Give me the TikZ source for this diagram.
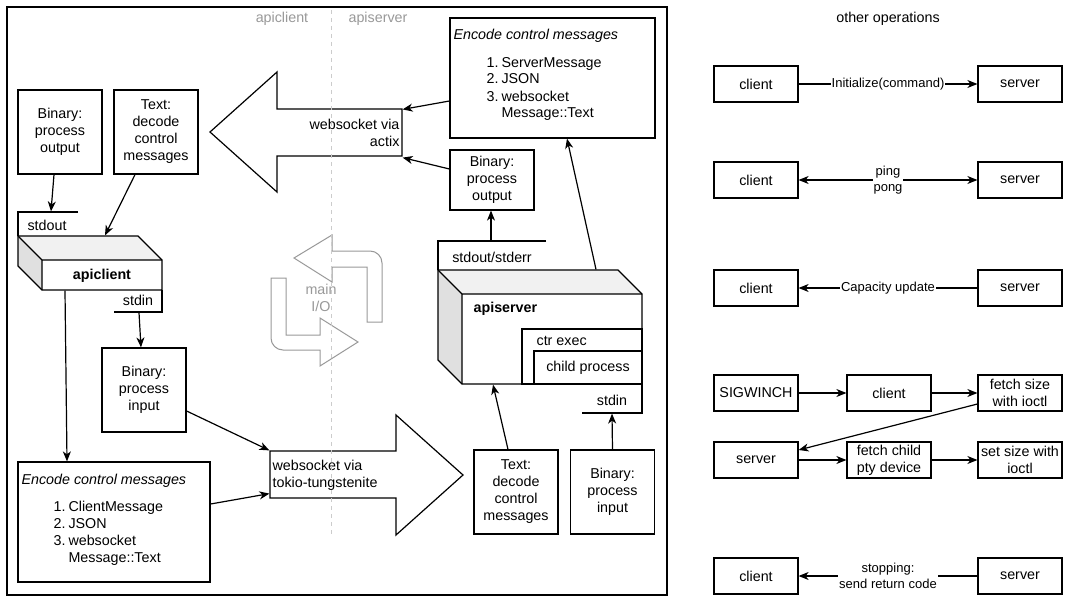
\documentclass[tikz,border=0pt]{standalone}
\usepackage{fontspec}
\setmainfont{Liberation Sans}
\usetikzlibrary{arrows.meta}
\newcommand\mfs{\fontsize{14.3}{17}\selectfont}
\newcommand\lfs{\fontsize{13}{15.5}\selectfont}
\definecolor{lgray}{HTML}{999999}
\definecolor{dgray}{HTML}{CCCCCC}
\definecolor{topf}{HTML}{F1F1F1}
\definecolor{sidef}{HTML}{E0E0E0}
\begin{document}
\begin{tikzpicture}[x=1pt,y=-1pt,line width=1.2pt,
  every node/.style={font=\mfs, inner sep=0pt},
  box/.style={draw, line width=1.2pt, align=center},
  lbl/.style={align=center},
  tip/.style={-{Stealth[length=10pt,width=8pt,inset=3pt]}},
  bitip/.style={{Stealth[length=10pt,width=8pt,inset=3pt]}-{Stealth[length=10pt,width=8pt,inset=3pt]}},
  elab/.style={font=\lfs, fill=white, inner sep=1pt, align=center},
  glabel/.style={text=lgray}]
\useasboundingbox (0,0) rectangle (1071,602);
\fill[white] (0,0) rectangle (1071,602);

% outer frame
\node[draw, minimum width=660pt, minimum height=588pt] (frame) at (337,301) {};

% lane labels
\node[glabel] (lapic) at (282,19) {apiclient};
\node[glabel] (lapis) at (378,19) {apiserver};

% big left arrow (websocket via actix)
\draw[fill=white] (402,109) -- (277,109) -- (277,72) -- (210,132) -- (277,192) -- (277,156) -- (402,156) -- cycle;
\node[minimum width=125pt, minimum height=47pt] (wsa) at (339.5,132.5) {};
\node[anchor=east, align=right] (wsatext) at (400,133) {websocket via\\actix};

% big right arrow (websocket via tokio-tungstenite)
\draw[fill=white] (270,451) -- (396,451) -- (396,415) -- (463,475) -- (396,535) -- (396,498) -- (270,498) -- cycle;
\node[minimum width=126pt, minimum height=47pt] (wst) at (333,474.5) {};
\node[anchor=west, align=left] (wsttext) at (272,475) {websocket via\\tokio-tungstenite};

% main I/O
\draw[lgray, line width=1pt, fill=white] (294,258) -- (332,235) -- (332,251) -- (370,251)
  arc[start angle=-90, end angle=0, radius=12] -- (382,322) -- (367,322) -- (367,267)
  -- (332,267) -- (332,282) -- cycle;
\draw[lgray, line width=1pt, fill=white] (271,278) -- (286,278) -- (286,335) -- (320,335)
  -- (320,318) -- (358,342) -- (320,366) -- (320,350) -- (283,350)
  arc[start angle=90, end angle=180, radius=12] -- cycle;
\node[glabel, align=center] (mainio) at (321,298) {main\\I/O};

% ---------- client side ----------
\node[box, minimum width=84pt, minimum height=84pt] (bpo) at (60,132) {Binary:\\process\\output};
\node[box, minimum width=84pt, minimum height=84pt] (tdc) at (156,132) {Text:\\decode\\control\\messages};

% stdout partial
\draw (78,212) -- (18,212) -- (18,236);
\node[minimum width=60pt, minimum height=24pt] (stdoutc) at (48,224) {};
\node (stdoutctext) at (47,225) {stdout};

% apiclient cube
\fill[topf] (18,236) -- (138,236) -- (162,260) -- (42,260) -- cycle;
\fill[sidef] (18,236) -- (42,260) -- (42,290) -- (18,266) -- cycle;
\draw (18,236) -- (138,236) -- (162,260) -- (162,290) -- (42,290) -- (18,266) -- cycle;
\draw (18,236) -- (42,260) -- (162,260) (42,260) -- (42,290);
\node[minimum width=144pt, minimum height=54pt] (apicube) at (90,263) {};
\node[font=\mfs\bfseries] (apiclab) at (102,276) {apiclient};

% stdin partial
\draw (162,290) -- (162,312) -- (114,312);
\node[minimum width=48pt, minimum height=22pt] (stdinc) at (138,301) {};
\node (stdinctext) at (138,300) {stdin};

\node[box, minimum width=84pt, minimum height=84pt] (bpi) at (144,390) {Binary:\\process\\input};

\node[box, minimum width=192pt, minimum height=120pt] (enc1) at (114,522) {};
\node[anchor=base west, font=\mfs\itshape] (enc1t) at (21,484) {Encode control messages};
\node[anchor=base west] (enc1l) at (53,511) {\begin{tabular}[t]{@{}l@{\hspace{3pt}}l@{}}1.&ClientMessage\\2.&JSON\\3.&websocket\\&Message::Text\end{tabular}};

% ---------- server side ----------
\node[box, minimum width=205pt, minimum height=120pt] (enc2) at (552.5,78) {};
\node[anchor=base west, font=\mfs\itshape] (enc2t) at (453,40) {Encode control messages};
\node[anchor=base west] (enc2l) at (486,67) {\begin{tabular}[t]{@{}l@{\hspace{3pt}}l@{}}1.&ServerMessage\\2.&JSON\\3.&websocket\\&Message::Text\end{tabular}};

\node[box, minimum width=84pt, minimum height=60pt] (bpo2) at (492,180) {Binary:\\process\\output};

% stdout/stderr partial
\draw (546,241) -- (438,241) -- (438,270);
\node[minimum width=108pt, minimum height=29pt] (stdouts) at (492,255.5) {};
\node (stdoutstext) at (492,257) {stdout/stderr};

% apiserver cube
\fill[topf] (438,270) -- (618,270) -- (642,294) -- (462,294) -- cycle;
\fill[sidef] (438,270) -- (462,294) -- (462,384) -- (438,360) -- cycle;
\draw (438,270) -- (618,270) -- (642,294) -- (642,384) -- (462,384) -- (438,360) -- cycle;
\draw (438,270) -- (462,294) -- (642,294) (462,294) -- (462,384);
\node[minimum width=204pt, minimum height=114pt] (apiscube) at (540,327) {};
\node[anchor=west, font=\mfs\bfseries] (apislab) at (473,309) {apiserver};
\node[box, minimum width=120pt, minimum height=55pt] (ctr) at (582,356.5) {};
\node[anchor=west] (ctrtext) at (536,341) {ctr exec};
\node[box, minimum width=108pt, minimum height=33pt] (child) at (588,367.5) {child process};

% stdin partial
\draw (642,384) -- (642,413) -- (582,413);
\node[minimum width=60pt, minimum height=29pt] (stdins) at (612,398.5) {};
\node (stdinstext) at (612,400) {stdin};

\node[box, minimum width=84pt, minimum height=84pt] (tdc2) at (516,492) {Text:\\decode\\control\\messages};
\node[box, minimum width=84pt, minimum height=84pt] (bpi2) at (612.5,492) {Binary:\\process\\input};

% ---------- connectors (left diagram) ----------
\draw[tip] ([xshift=-6pt]bpo.south) -- ([xshift=3pt]stdoutc.north);
\draw[tip] ([xshift=-21pt]tdc.south) -- ([xshift=15pt]apicube.north);
\draw[tip] ([xshift=-25pt]apicube.south) -- ([xshift=-47pt]enc1.north);
\draw[tip] ([xshift=1pt]stdinc.south) -- ([xshift=-3pt]bpi.north);
\draw[tip] ([yshift=-21pt]bpi.east) -- (wst.north west);
\draw[tip] ([yshift=18pt]enc1.east) -- ([yshift=5pt]wst.south west);
\draw[tip] ([yshift=-23pt]enc2.west) -- ([yshift=-1pt]wsa.north east);
\draw[tip] ([yshift=11pt]bpo2.west) -- ([yshift=-1pt]wsa.south east);
\draw[tip] ([xshift=-1pt]stdouts.north) -- ([xshift=-1pt]bpo2.south);
\draw[tip] ([xshift=56pt]apiscube.north) -- ([xshift=14.5pt]enc2.south);
\draw[tip] ([xshift=-8pt]tdc2.north) -- ([xshift=-47pt]apiscube.south);
\draw[tip] (bpi2.north) -- (stdins.south);

% dashed divider
\coordinate (dtop) at (331,10);
\coordinate (dbot) at (331,535);
\draw[dgray, line width=1pt, dash pattern=on 4pt off 4pt] (dtop) -- (dbot);

% ---------- other operations ----------
\node (other) at (888,19) {other operations};
\tikzset{sbox/.style={box, minimum width=84pt, minimum height=36pt}}
\node[sbox] (c1) at (756,84) {client};
\node[sbox] (s1) at (1020,84) {server};
\node[sbox] (c2) at (756,180) {client};
\node[sbox] (s2) at (1020,180) {server};
\node[sbox] (c3) at (756,288) {client};
\node[sbox] (s3) at (1020,288) {server};
\node[sbox] (sig) at (756,393) {SIGWINCH};
\node[sbox] (c4) at (889,393) {client};
\node[sbox] (fsz) at (1020,393) {fetch size\\with ioctl};
\node[sbox] (s5) at (756,460) {server};
\node[sbox] (fch) at (889,460) {fetch child\\pty device};
\node[sbox] (ssz) at (1020,460) {set size with\\ioctl};
\node[sbox] (c6) at (756,576) {client};
\node[sbox] (s6) at (1020,576) {server};

\draw[tip] (c1) -- node[elab] (l1) {Initialize(command)} (s1);
\draw[bitip] (c2) -- node[elab] (l2) {ping\\pong} (s2);
\draw[tip] (s3) -- node[elab] (l3) {Capacity update} (c3);
\draw[tip] (sig) -- (c4);
\draw[tip] (c4) -- (fsz);
\draw[tip] ([yshift=-11pt]fsz.west) -- ([yshift=10pt]s5.east);
\draw[tip] (s5) -- (fch);
\draw[tip] (fch) -- (ssz);
\draw[tip] (s6) -- node[elab] (l6) {stopping:\\send return code} (c6);
\end{tikzpicture}
\end{document}
